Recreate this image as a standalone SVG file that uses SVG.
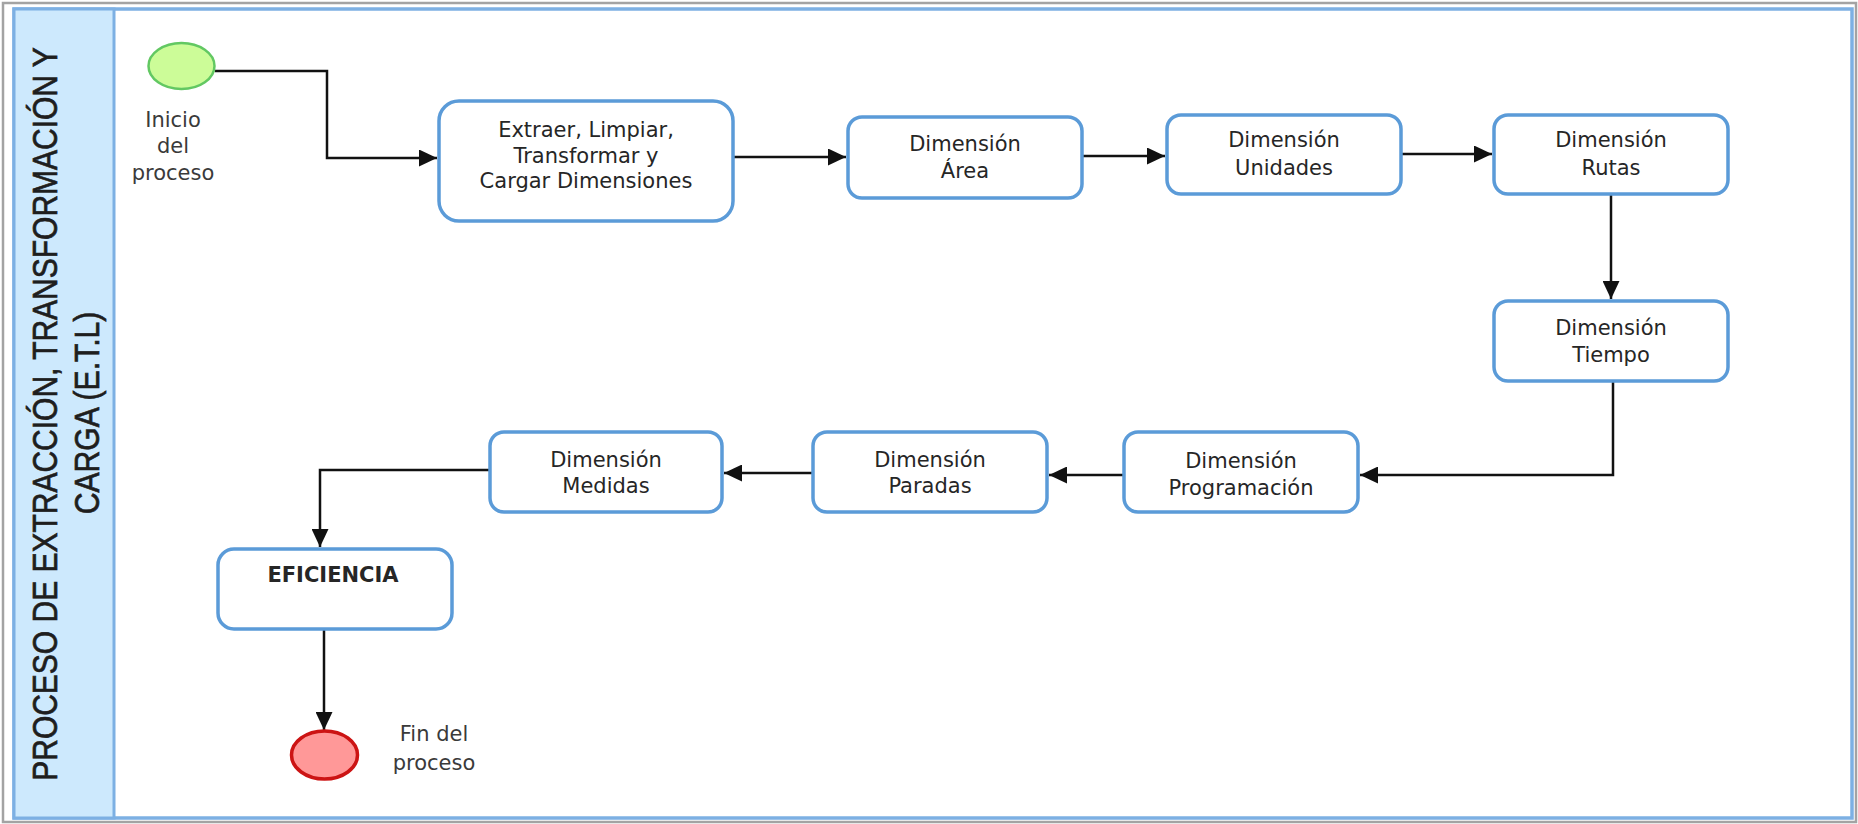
<svg xmlns="http://www.w3.org/2000/svg" width="1858" height="824" viewBox="0 0 1858 824">
  <style>
    .frame { fill: #ffffff; stroke: #a3a3a3; stroke-width: 2.5; }
    .pool { fill: #ffffff; stroke: #7db0e3; stroke-width: 3.5; }
    .lane { fill: #cde9fd; stroke: #7db0e3; stroke-width: 3; }
    .title { font-family: "Liberation Sans", Arial, sans-serif; font-size: 35px; fill: #1e1e1e; stroke: #1e1e1e; stroke-width: 0.7; text-anchor: middle; }
    .task { fill: #ffffff; stroke: #5b9bd8; stroke-width: 3.5; }
    .lbl { font-family: "DejaVu Sans", Verdana, sans-serif; font-size: 21px; fill: #262626; text-anchor: middle; }
    .bold { font-weight: bold; }
    .side { fill: #3a3a3a; }
    .edge { fill: none; stroke: #111; stroke-width: 2.5; marker-end: url(#arrow); }
    .start { fill: #ccfc98; stroke: #62c862; stroke-width: 2.5; }
    .end { fill: #ff9898; stroke: #cc1414; stroke-width: 3.5; }
  </style>
  <defs>
    <marker id="arrow" markerUnits="userSpaceOnUse" markerWidth="19" markerHeight="17" refX="18" refY="8.5" orient="auto">
      <path d="M0,0 L18,8.5 L0,17 z" fill="#111"/>
    </marker>
  </defs>

  <!-- outer frame and pool with its lane header -->
  <rect class="frame" x="3" y="3" width="1853" height="819"/>
  <rect class="pool" x="14" y="9" width="1838" height="809"/>
  <rect class="lane" x="14" y="9" width="100" height="809"/>
  <g id="lane-title">
    <!-- condensed heading, read bottom to top -->
    <text class="title" transform="translate(57,414) rotate(-90) scale(0.857,1)">PROCESO DE EXTRACCIÓN, TRANSFORMACIÓN Y</text>
    <text class="title" transform="translate(99,413) rotate(-90) scale(0.862,1)">CARGA (E.T.L)</text>
  </g>

  <!-- connectors -->
  <g id="connectors">
    <path class="edge" d="M215,71 H327 V158 H437"/>
    <path class="edge" d="M733,157 H846"/>
    <path class="edge" d="M1082,156 H1165"/>
    <path class="edge" d="M1401,154 H1492"/>
    <path class="edge" d="M1611,194 V299"/>
    <path class="edge" d="M1613,381 V475 H1360"/>
    <path class="edge" d="M1124,475 H1049"/>
    <path class="edge" d="M813,473 H724"/>
    <path class="edge" d="M490,470 H320 V547"/>
    <path class="edge" d="M324,629 V730"/>
  </g>

  <g id="start">
    <ellipse class="start" cx="181.5" cy="66" rx="33" ry="23"/>
    <text class="lbl side" x="173" y="127">Inicio</text>
    <text class="lbl side" x="173" y="153">del</text>
    <text class="lbl side" x="173" y="180">proceso</text>
  </g>

  <g id="etl">
    <rect class="task" x="439" y="101" width="294" height="120" rx="20"/>
    <text class="lbl" x="586" y="137">Extraer, Limpiar,</text>
    <text class="lbl" x="586" y="163">Transformar y</text>
    <text class="lbl" x="586" y="188">Cargar Dimensiones</text>
  </g>

  <g id="dim-area">
    <rect class="task" x="848" y="117" width="234" height="81" rx="14"/>
    <text class="lbl" x="965" y="151">Dimensión</text>
    <text class="lbl" x="965" y="178">Área</text>
  </g>

  <g id="dim-unidades">
    <rect class="task" x="1167" y="115" width="234" height="79" rx="14"/>
    <text class="lbl" x="1284" y="147">Dimensión</text>
    <text class="lbl" x="1284" y="175">Unidades</text>
  </g>

  <g id="dim-rutas">
    <rect class="task" x="1494" y="115" width="234" height="79" rx="14"/>
    <text class="lbl" x="1611" y="147">Dimensión</text>
    <text class="lbl" x="1611" y="175">Rutas</text>
  </g>

  <g id="dim-tiempo">
    <rect class="task" x="1494" y="301" width="234" height="80" rx="14"/>
    <text class="lbl" x="1611" y="335">Dimensión</text>
    <text class="lbl" x="1611" y="362">Tiempo</text>
  </g>

  <g id="dim-programacion">
    <rect class="task" x="1124" y="432" width="234" height="80" rx="14"/>
    <text class="lbl" x="1241" y="468">Dimensión</text>
    <text class="lbl" x="1241" y="495">Programación</text>
  </g>

  <g id="dim-paradas">
    <rect class="task" x="813" y="432" width="234" height="80" rx="14"/>
    <text class="lbl" x="930" y="467">Dimensión</text>
    <text class="lbl" x="930" y="493">Paradas</text>
  </g>

  <g id="dim-medidas">
    <rect class="task" x="490" y="432" width="232" height="80" rx="14"/>
    <text class="lbl" x="606" y="467">Dimensión</text>
    <text class="lbl" x="606" y="493">Medidas</text>
  </g>

  <g id="eficiencia">
    <rect class="task" x="218" y="549" width="234" height="80" rx="16"/>
    <text class="lbl bold" x="333" y="582">EFICIENCIA</text>
  </g>

  <g id="end">
    <ellipse class="end" cx="324.5" cy="755" rx="33" ry="24"/>
    <text class="lbl side" x="434" y="741">Fin del</text>
    <text class="lbl side" x="434" y="770">proceso</text>
  </g>
</svg>
